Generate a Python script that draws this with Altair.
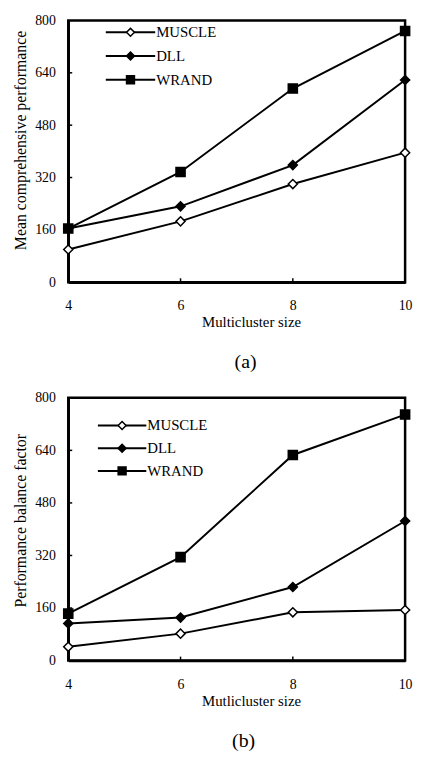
import altair as alt
import pandas as pd

FONT = "Liberation Serif, Times New Roman, serif"

sizes = [4, 6, 8, 10]
series = ["MUSCLE", "DLL", "WRAND"]

a_muscle = [100, 186, 300, 396]
a_dll = [164, 232, 358, 618]
a_wrand = [164, 337, 592, 768]

b_muscle = [42, 82, 147, 154]
b_dll = [113, 131, 224, 425]
b_wrand = [143, 315, 626, 749]

x_ticks = [4, 6, 8, 10]
y_ticks = [0, 160, 320, 480, 640, 800]
x_inner_ticks = [6, 8]
y_inner_ticks = [160, 320, 480, 640]


def frame(vals):
    rows = []
    for name, ys in zip(series, vals):
        for s, v in zip(sizes, ys):
            rows.append({"size": s, "value": v, "series": name})
    return pd.DataFrame(rows)


df_a = frame([a_muscle, a_dll, a_wrand])
df_b = frame([b_muscle, b_dll, b_wrand])
df_leg = pd.DataFrame({"series": series})
df_xt = pd.DataFrame({"size": x_inner_ticks})
df_yt = pd.DataFrame({"value": y_inner_ticks})

shape_scale = alt.Scale(domain=series, range=["diamond", "diamond", "square"])
fill_scale = alt.Scale(domain=series, range=["white", "black", "black"])


def panel(df, ytitle, xtitle, caption, w, h, lx0, lx1, ly0, ly1, ty, tx, cdx):
    xs = alt.Scale(domain=[4, 10], nice=False, zero=False)
    ys = alt.Scale(domain=[0, 800], nice=False)
    x = alt.X("size:Q", scale=xs,
              axis=alt.Axis(values=x_ticks, title=xtitle, format="d", domain=True,
                            domainColor="black", domainWidth=2.5, grid=False, ticks=False,
                            labelPadding=17, labelFont=FONT, labelFontSize=14, labelColor="black",
                            labelFlush=False, labelOverlap=False,
                            titleFont=FONT, titleFontSize=15, titleFontWeight="normal",
                            titleColor="black", titlePadding=2, titleX=tx))
    y = alt.Y("value:Q", scale=ys,
              axis=alt.Axis(values=y_ticks, title=ytitle, format="d", domain=True,
                            domainColor="black", domainWidth=2.5, grid=False, ticks=False,
                            labelPadding=13, labelFont=FONT, labelFontSize=14, labelColor="black",
                            labelFlush=False, labelOverlap=False,
                            titleFont=FONT, titleFontSize=16, titleFontWeight="normal",
                            titleColor="black", titlePadding=6, titleY=ty))
    lines = alt.Chart(df).mark_line(color="black", strokeWidth=2).encode(
        x=x, y=y, detail="series:N")
    pts = alt.Chart(df).mark_point(stroke="black", strokeWidth=1.5, opacity=1, size=85).encode(
        x=x, y=y,
        shape=alt.Shape("series:N", scale=shape_scale, legend=None),
        fill=alt.Fill("series:N", scale=fill_scale, legend=None),
    )
    xt = alt.Chart(df_xt).mark_rule(color="black", strokeWidth=1.5).encode(
        x=alt.X("size:Q", scale=xs), y=alt.value(h), y2=alt.value(h - 4))
    yt = alt.Chart(df_yt).mark_rule(color="black", strokeWidth=1.5).encode(
        y=alt.Y("value:Q", scale=ys), x=alt.value(0), x2=alt.value(4))
    ly = alt.Y("series:N", scale=alt.Scale(domain=series, range=[ly0, ly1], type="point", padding=0),
               axis=None)
    leg_line = alt.Chart(df_leg).mark_rule(color="black", strokeWidth=2).encode(
        x=alt.value(lx0), x2=alt.value(lx1), y=ly)
    leg_pt = alt.Chart(df_leg).mark_point(stroke="black", strokeWidth=1.5, opacity=1, size=64).encode(
        x=alt.value((lx0 + lx1) / 2), y=ly,
        shape=alt.Shape("series:N", scale=shape_scale, legend=None),
        fill=alt.Fill("series:N", scale=fill_scale, legend=None),
    )
    leg_txt = alt.Chart(df_leg).mark_text(align="left", baseline="middle", font=FONT, fontSize=15,
                                          color="black", dx=1).encode(
        x=alt.value(lx1), y=ly, text="series:N")
    main = alt.layer(xt, yt, lines, pts)
    legend = alt.layer(leg_line, leg_pt, leg_txt)
    return alt.layer(main, legend).resolve_scale(y="independent").properties(
        width=w, height=h,
        title=alt.TitleParams(caption, orient="bottom", font=FONT, fontSize=20, fontWeight="normal",
                              color="black", anchor="middle", frame="group", offset=23, dx=cdx),
    )


pa = panel(df_a, "Mean comprehensive performance", "Multicluster size", "(a)",
           341, 265, 38, 88, 12, 60, 121, 185, 9)
pb = panel(df_b, "Performance balance factor", "Mutlicluster size", "(b)",
           341, 266, 30, 79, 28, 74, 124, 185, 7)

chart = alt.vconcat(pa, pb, spacing=15).properties(
    padding={"left": 3, "top": -1, "right": 0, "bottom": 0}, background="white"
).configure_view(stroke="black", strokeWidth=2.5)

chart.save("out.html", embed_options={"renderer": "svg", "actions": False})
